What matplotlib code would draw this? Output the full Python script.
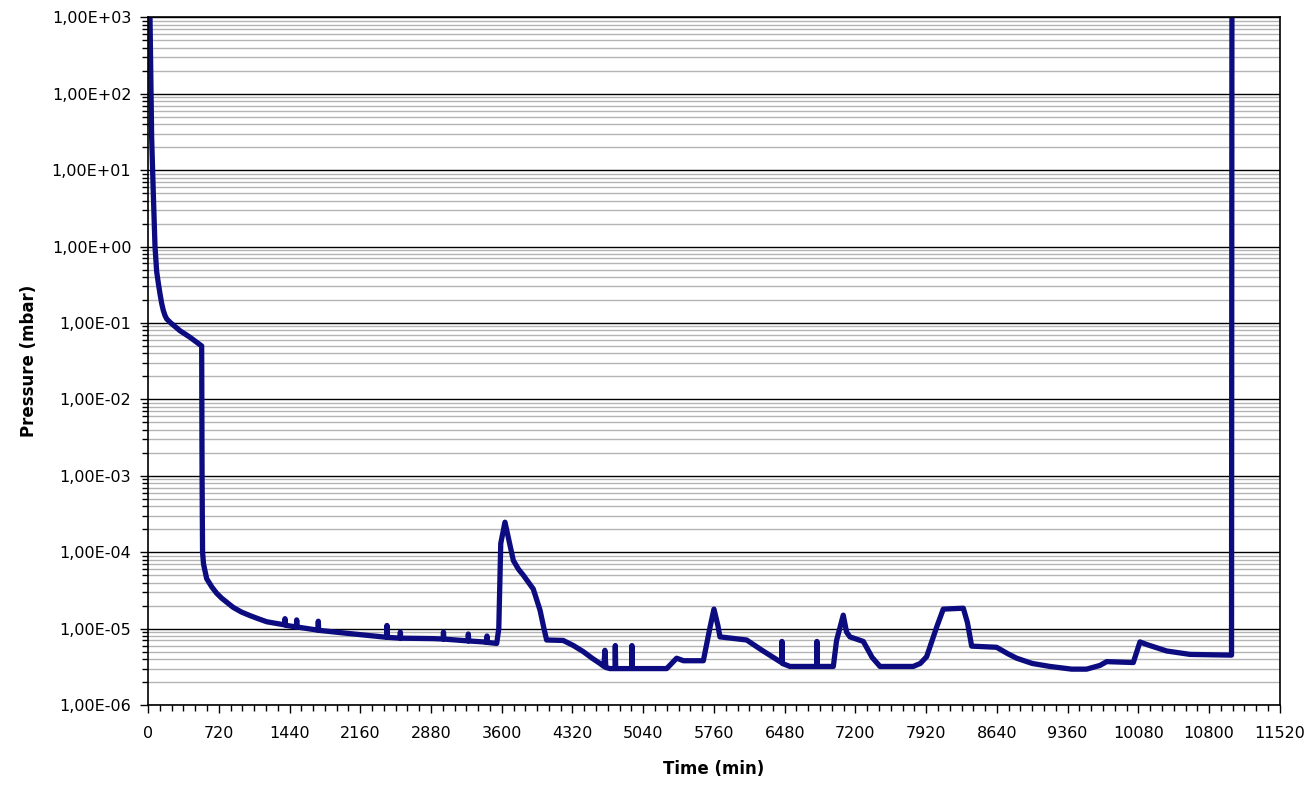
import numpy as np
import matplotlib.pyplot as plt
from matplotlib.ticker import FixedLocator, LogLocator, FuncFormatter, NullFormatter

# time (min) and pressure (mbar)
time_min = [0, 20, 37, 54, 71, 88, 105, 122, 139, 156, 173, 190, 224, 326, 427, 529, 546,
            550, 555, 565, 597, 650, 699, 750, 866, 950, 1038, 1120, 1208,
            1390, 1394, 1398, 1411, 1510, 1513, 1517, 1717, 1730, 1733, 1737,
            2056, 2395, 2429, 2432, 2436, 2565, 2568, 2572, 2904,
            3004, 3007, 3011, 3257, 3260, 3264, 3412, 3447, 3450, 3454, 3549,
            3570, 3590, 3633, 3670, 3718, 3770, 3820, 3921, 3990, 4030, 4057, 4226, 4330, 4430,
            4520, 4600, 4640, 4650, 4660, 4700, 4753, 4756, 4760, 4922, 4925, 4929,
            5279, 5380, 5450, 5652, 5720, 5760, 5800, 5821, 6093, 6250, 6432,
            6449, 6452, 6456, 6534, 6805, 6808, 6812, 6975,
            7008, 7076, 7110, 7144, 7280, 7370, 7450, 7788, 7860, 7925, 8027, 8094, 8298,
            8340, 8383, 8637, 8750, 8841, 9000, 9180, 9400, 9553, 9689, 9757, 10028, 10096,
            10164, 10367, 10605, 11028, 11030, 11032]
pressure = [1000, 1000, 26, 4.8, 1.0, 0.47, 0.33, 0.24, 0.18, 0.145, 0.125, 0.113, 0.102, 0.079, 0.065, 0.052, 0.05,
            1e-3, 1e-4, 7e-5, 4.5e-5, 3.5e-5, 2.9e-5, 2.5e-5, 1.9e-5, 1.65e-5, 1.48e-5, 1.35e-5, 1.23e-5,
            1.12e-5, 1.35e-5, 1.12e-5, 1.1e-5, 1.05e-5, 1.3e-5, 1.05e-5, 9.6e-6, 9.5e-6, 1.25e-5, 9.5e-6,
            8.6e-6, 7.8e-6, 7.7e-6, 1.1e-5, 7.7e-6, 7.5e-6, 9e-6, 7.5e-6, 7.4e-6,
            7.3e-6, 9e-6, 7.3e-6, 6.9e-6, 8.5e-6, 6.9e-6, 6.7e-6, 6.6e-6, 8e-6, 6.6e-6, 6.4e-6,
            1e-5, 1.3e-4, 2.47e-4, 1.5e-4, 7.8e-5, 6e-5, 5e-5, 3.3e-5, 1.74e-5, 1e-5, 7.1e-6, 7e-6, 6e-6, 5e-6,
            4.1e-6, 3.5e-6, 3.2e-6, 5.2e-6, 3.1e-6, 3.0e-6, 3.0e-6, 6e-6, 3.0e-6, 3e-6, 6e-6, 3e-6,
            3.0e-6, 4.1e-6, 3.8e-6, 3.8e-6, 1.04e-5, 1.8e-5, 1.1e-5, 7.8e-6, 7.1e-6, 5.2e-6, 3.7e-6,
            3.6e-6, 6.8e-6, 3.5e-6, 3.2e-6, 3.2e-6, 6.8e-6, 3.2e-6, 3.2e-6,
            7e-6, 1.5e-5, 9e-6, 7.8e-6, 6.8e-6, 4.2e-6, 3.2e-6, 3.2e-6, 3.5e-6, 4.3e-6, 1.05e-5, 1.8e-5, 1.85e-5,
            1.2e-5, 5.9e-6, 5.7e-6, 4.7e-6, 4.1e-6, 3.5e-6, 3.2e-6, 2.95e-6, 2.95e-6, 3.3e-6, 3.7e-6, 3.6e-6, 6.7e-6,
            6.2e-6, 5.1e-6, 4.6e-6, 4.5e-6, 3e-2, 1000]

x_ticks = list(range(0, 11521, 720))

fig = plt.figure(figsize=(13.1, 7.86), dpi=100)
ax = fig.add_axes([0.113, 0.103, 0.864, 0.875])

ax.plot(time_min, pressure, color='#0c0c80', lw=3.8, solid_joinstyle='round')

ax.set_yscale('log')
ax.set_ylim(1e-6, 1e3)
ax.set_xlim(0, 11520)

# grid: black at decades, grey in between
ax.yaxis.set_major_locator(LogLocator(base=10, numticks=20))
ax.yaxis.set_minor_locator(LogLocator(base=10, subs=np.arange(2, 10), numticks=20))
ax.yaxis.set_minor_formatter(NullFormatter())
ax.yaxis.set_major_formatter(FuncFormatter(lambda v, pos: f"{v:.2E}".replace('.', ',')))
ax.grid(which='major', axis='y', color='black', lw=1.0)
ax.grid(which='minor', axis='y', color='#b4b4b4', lw=1.0)
ax.set_axisbelow(True)

ax.xaxis.set_major_locator(FixedLocator(x_ticks))
ax.xaxis.set_minor_locator(FixedLocator(list(range(0, 11521, 120))))

ax.tick_params(which='major', direction='out', length=6, width=1, labelsize=11.5, pad=6)
ax.tick_params(axis='x', which='major', pad=9)
ax.tick_params(which='minor', direction='out', length=4, width=1)

for s in ax.spines.values():
    s.set_color('black')
    s.set_linewidth(1.2)

ax.set_xlabel('Time (min)', fontsize=12, fontweight='bold', labelpad=14)
ax.set_ylabel('Pressure (mbar)', fontsize=12, fontweight='bold', labelpad=10)

fig.savefig('out.png', dpi=100)
